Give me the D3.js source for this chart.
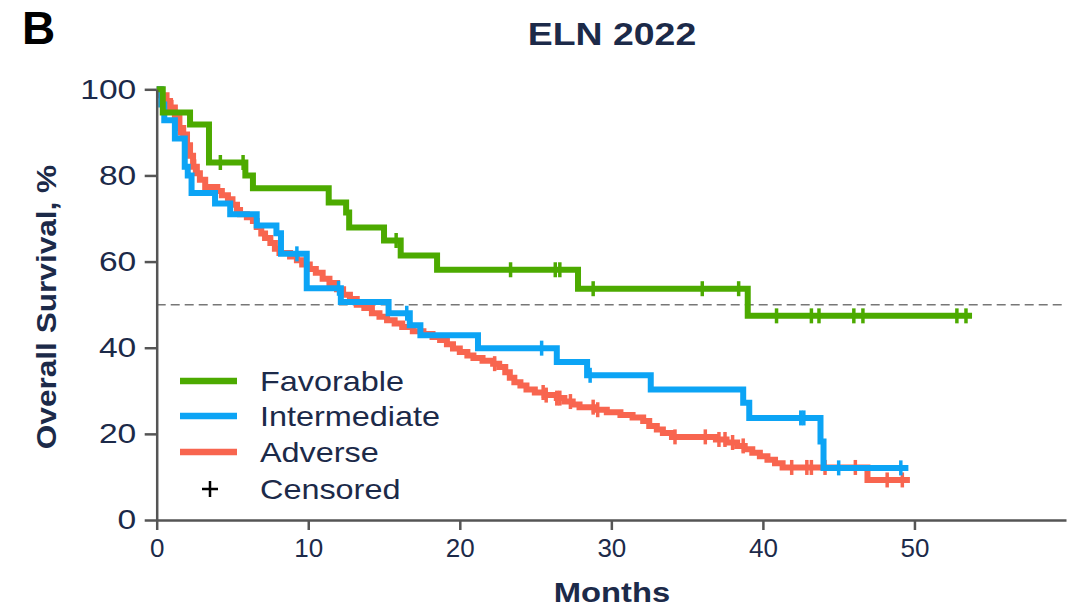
<!DOCTYPE html>
<html>
<head>
<meta charset="utf-8">
<script src="https://cdn.jsdelivr.net/npm/d3@7"></script>
<style>
  body { margin: 0; background: #fff; }
  text { font-family: "Liberation Sans", Arial, sans-serif; }
</style>
</head>
<body>
<svg id="chart" width="1079" height="610"></svg>
<script>
// Kaplan-Meier steps (months, survival %)
const favTime = [0, 0.4, 2.2, 3.45, 5.85, 6.35, 11.35, 12.5, 12.7, 15.0, 16.1, 18.5, 27.8, 39.0];
const favSurv = [100, 94.6, 91.8, 83, 80, 77, 73.7, 71.4, 67.9, 64.9, 61.4, 58.1, 53.7, 47.4];
const favCens = [4.2, 5.7, 15.8, 23.35, 26.3, 26.6, 28.8, 36.0, 38.4, 40.9, 43.2, 43.7, 46.0, 46.6, 52.8, 53.4];
const favEnd = 53.8;

const intTime = [0, 0.3, 0.5, 1.2, 1.85, 2.05, 2.3, 3.85, 4.85, 6.6, 7.9, 8.2, 9.9, 12.15, 15.3, 16.7, 17.4, 21.2, 26.4, 28.4, 32.6, 38.7, 39.1, 43.8, 44.0];
const intSurv = [100, 96.5, 92.8, 88.6, 82, 80, 75.9, 73.5, 71, 68.4, 66.6, 61.8, 53.8, 50.6, 48, 45.2, 42.9, 39.9, 36.7, 33.6, 30.3, 27.2, 23.7, 18.2, 12.1];
const intCens = [9.25, 12.0, 16.5, 25.4, 28.6, 42.5, 42.7, 45.0, 49.1];
const intEnd = 49.6;

const advTime = [0, 0.2, 0.65, 0.88, 1.2, 1.5, 1.75, 2.0, 2.2, 2.4, 2.65, 2.85, 3.2, 4.0, 4.3, 4.7, 5.0, 5.3, 5.5, 5.95,
  6.35, 6.6, 6.9, 7.15, 7.5, 7.8, 8.1, 8.8, 9.25, 9.6, 10.1, 10.5, 10.95, 11.4, 11.9, 12.3, 12.75, 13.2, 13.7, 14.2,
  14.7, 15.2, 15.7, 16.2, 16.9, 17.6, 18.2, 18.7, 19.15, 19.55, 20.0, 20.5, 20.9, 21.5, 22.2, 22.6, 23.0, 23.3, 23.6, 24.0,
  24.4, 24.95, 25.6, 26.4, 26.9, 27.45, 27.9, 28.9, 29.7, 30.6, 31.4, 32.1, 32.5, 33.0, 33.4, 34.0, 36.9, 37.6, 38.3, 38.8,
  39.3, 39.8, 40.3, 40.8, 41.3, 46.9];
const advSurv = [100, 98.6, 97.3, 95.8, 93.5, 91, 89.5, 87, 84.6, 82, 80.5, 79, 77.3, 76.4, 75.4, 74.5, 73.2, 72, 71, 70.3,
  69.4, 68, 66.5, 65.5, 64.3, 63, 62, 61.2, 60.3, 59.3, 58.3, 57.4, 56, 55, 53.6, 52.3, 51.3, 50, 49.2, 48,
  47.2, 46.4, 45.6, 44.8, 43.8, 43.2, 42.5, 41.8, 40.8, 39.8, 39.0, 38.2, 37.6, 37.0, 36.3, 35.5, 34.3, 33, 32, 31.2,
  30.3, 29.6, 29, 28.3, 27.5, 26.8, 26.2, 25.6, 25, 24.4, 23.8, 23.0, 21.8, 21, 20.2, 19.3, 18.7, 18, 17.2, 16.4,
  15.6, 14.8, 14, 13.2, 12.2, 9.3];
const advCens = [1.0, 1.5, 2.5, 22.3, 25.5, 25.7, 26.4, 26.6, 27.3, 28.8, 29.1, 34.2, 36.2, 37.1, 37.5, 38.0, 38.7,
  41.9, 42.9, 43.2, 44.1, 46.1, 48.2, 49.2];
const advEnd = 49.7;

const groups = ["Favorable", "Intermediate", "Adverse"];
const colors = ["#4caa00", "#0ca4f5", "#f8654f"];
const xTicks = [0, 10, 20, 30, 40, 50];
const yTicks = [0, 20, 40, 60, 80, 100];

const ink = "#1c2a49";

const svg = d3.select("#chart");

const x = d3.scaleLinear().domain([0, 60]).range([156.7, 1066]);
const y = d3.scaleLinear().domain([0, 100]).range([520, 89.3]);

// panel letter + title
svg.append("text").attr("x", 22).attr("y", 44)
  .attr("font-size", 46).attr("font-weight", "bold").attr("fill", "#000").text("B");
svg.append("text").attr("transform", "translate(612,45) scale(1.17,1)")
  .attr("text-anchor", "middle").attr("font-size", 32).attr("font-weight", "bold")
  .attr("fill", ink).text("ELN 2022");

// median reference line
svg.append("line")
  .attr("x1", x(0)).attr("x2", x(60)).attr("y1", y(50)).attr("y2", y(50))
  .attr("stroke", "#777").attr("stroke-width", 1.5).attr("stroke-dasharray", "9,5");

function mkSteps(t, s, end) {
  const pts = t.map((d, i) => [d, s[i]]);
  pts.push([end, s[s.length - 1]]);
  return pts;
}
function survAt(t, s, time) {
  let v = s[0];
  for (let i = 0; i < t.length; i++) if (t[i] <= time) v = s[i];
  return v;
}

const curves = [
  { t: advTime, s: advSurv, c: advCens, end: advEnd, col: colors[2] },
  { t: intTime, s: intSurv, c: intCens, end: intEnd, col: colors[1] },
  { t: favTime, s: favSurv, c: favCens, end: favEnd, col: colors[0] }
];

const line = d3.line().x(d => x(d[0])).y(d => y(d[1])).curve(d3.curveStepAfter);

curves.forEach(k => {
  const g = svg.append("g");
  g.append("path").datum(mkSteps(k.t, k.s, k.end))
    .attr("fill", "none").attr("stroke", k.col).attr("stroke-width", 6)
    .attr("d", line);
  g.selectAll("line").data(k.c).enter().append("line")
    .attr("x1", d => x(d)).attr("x2", d => x(d))
    .attr("y1", d => y(survAt(k.t, k.s, d)) - 7.5)
    .attr("y2", d => y(survAt(k.t, k.s, d)) + 7.5)
    .attr("stroke", k.col).attr("stroke-width", 3.5);
});

// axes
const xAxis = svg.append("g").attr("transform", `translate(0,${y(0)})`)
  .call(d3.axisBottom(x).tickValues(xTicks).tickSize(10).tickPadding(9).tickSizeOuter(0));
const yAxis = svg.append("g").attr("transform", `translate(${x(0)},0)`)
  .call(d3.axisLeft(y).tickValues(yTicks).tickSize(12).tickPadding(5).tickSizeOuter(0));

[xAxis, yAxis].forEach(a => {
  a.select(".domain").attr("stroke", "#555").attr("stroke-width", 2.5);
  a.selectAll(".tick line").attr("stroke", "#555").attr("stroke-width", 2.5);
  a.selectAll(".tick text").attr("fill", ink)
    .attr("font-family", "Liberation Sans, Arial, sans-serif");
});
yAxis.selectAll(".tick text").attr("font-size", 28).attr("transform", "scale(1.2,1)");
xAxis.selectAll(".tick text").attr("font-size", 26);

svg.append("text").attr("transform", "translate(612,602) scale(1.17,1)")
  .attr("text-anchor", "middle").attr("font-size", 28).attr("font-weight", "bold")
  .attr("fill", ink).text("Months");
svg.append("text").attr("transform", "translate(56,307) rotate(-90) scale(1.17,1)")
  .attr("text-anchor", "middle").attr("font-size", 27).attr("font-weight", "bold")
  .attr("fill", ink).text("Overall Survival, %");

// legend
const legY = [381, 416, 452];
const leg = svg.append("g");
groups.forEach((name, i) => {
  leg.append("line").attr("x1", 180).attr("x2", 237).attr("y1", legY[i]).attr("y2", legY[i])
    .attr("stroke", colors[i]).attr("stroke-width", 6.5);
  leg.append("text").attr("transform", `translate(260,${legY[i] + 10}) scale(1.2,1)`)
    .attr("font-size", 27).attr("fill", ink).text(name);
});
leg.append("path").attr("d", "M202,489H218M210,481V497")
  .attr("stroke", "#000").attr("stroke-width", 2.5);
leg.append("text").attr("transform", `translate(260,${489 + 10}) scale(1.2,1)`)
  .attr("font-size", 27).attr("fill", ink).text("Censored");
</script>
</body>
</html>
